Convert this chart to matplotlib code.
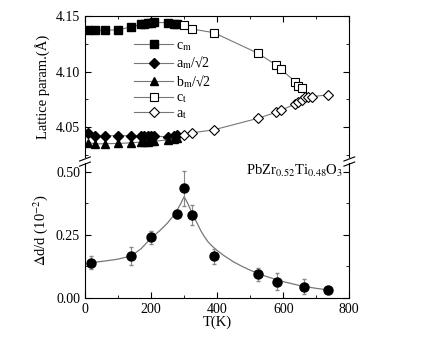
import numpy as np
import matplotlib
matplotlib.use("Agg")
import matplotlib.pyplot as plt
from matplotlib.ticker import MultipleLocator

plt.rcParams['font.family'] = ['Liberation Serif', 'DejaVu Serif']
plt.rcParams['mathtext.fontset'] = 'stix'
plt.rcParams['font.size'] = 10

# monoclinic phase
T_m = [10, 30, 60, 100, 140, 170, 180, 190, 200, 210, 250, 270, 280]
c_m = [4.1375, 4.1372, 4.1372, 4.1375, 4.1402, 4.1425, 4.1432, 4.1437, 4.1440, 4.1442, 4.1440, 4.1432, 4.1428]
a_m = [4.0445, 4.0420, 4.0422, 4.0422, 4.0422, 4.0422, 4.0422, 4.0422, 4.0422, 4.0420, 4.0410, 4.0418, 4.0428]
b_m = [4.0360, 4.0348, 4.0350, 4.0352, 4.0358, 4.0365, 4.0367, 4.0368, 4.0370, 4.0372, 4.0385, 4.0395, 4.0405]

# tetragonal phase
T_ct = [300, 325, 390, 523, 578, 593, 636, 646, 656]
c_t = [4.1420, 4.1382, 4.1350, 4.1165, 4.1060, 4.1020, 4.0910, 4.0870, 4.0855]
T_at = [300, 325, 390, 523, 578, 593, 636, 646, 656, 666, 676, 688, 736]
a_t = [4.0424, 4.0448, 4.0475, 4.0578, 4.0632, 4.0652, 4.0706, 4.0724, 4.0745, 4.0769, 4.0774, 4.0774, 4.0790]

# peak width
T_w = [19, 139, 200, 279, 300, 325, 390, 523, 580, 663, 736]
dd = [0.139, 0.166, 0.240, 0.334, 0.435, 0.330, 0.165, 0.093, 0.064, 0.043, 0.029]
dd_err = [0.025, 0.035, 0.025, 0.015, 0.07, 0.04, 0.03, 0.025, 0.035, 0.03, 0.008]

# fitted curve
T_fit = [17, 60, 98, 140, 170, 199, 225, 249, 265, 279, 290, 300, 310, 320, 330, 340, 350, 360, 372, 385, 398, 420, 449, 475, 499, 550, 600, 651, 701, 736]
dd_fit = [0.139, 0.146, 0.153, 0.166, 0.195, 0.236, 0.265, 0.296, 0.322, 0.349, 0.375, 0.402, 0.378, 0.349, 0.320, 0.295, 0.268, 0.246, 0.223, 0.205, 0.190, 0.168, 0.143, 0.125, 0.110, 0.084, 0.064, 0.048, 0.037, 0.031]

fig = plt.figure(figsize=(4.48, 3.42), dpi=100)
ax1 = fig.add_axes([0.1897, 0.5409, 0.59, 0.4123])
ax2 = fig.add_axes([0.1897, 0.1295, 0.59, 0.3939])

lc = '#777777'
ax1.plot(T_m, c_m, '-s', color=lc, lw=0.8, mfc='k', mec='k', ms=5.5, label=r'c$_\mathrm{m}$')
ax1.plot(T_m, a_m, '-D', color=lc, lw=0.8, mfc='k', mec='k', ms=5, label=r'a$_\mathrm{m}$/√2')
ax1.plot(T_m, b_m, '-^', color=lc, lw=0.8, mfc='k', mec='k', ms=5.5, label=r'b$_\mathrm{m}$/√2')
ax1.plot(T_ct, c_t, '-s', color=lc, lw=0.8, mfc='white', mec='k', mew=0.8, ms=5.5, label=r'c$_\mathrm{t}$')
ax1.plot(T_at, a_t, '-D', color=lc, lw=0.8, mfc='white', mec='k', mew=0.8, ms=5, label=r'a$_\mathrm{t}$')

ax1.set_xlim(0, 800)
ax1.set_ylim(4.023, 4.15)
ax1.set_yticks([4.05, 4.10, 4.15])
ax1.set_yticklabels(['4.05', '4.10', '4.15'])
ax1.yaxis.set_minor_locator(MultipleLocator(0.025))
ax1.xaxis.set_major_locator(MultipleLocator(200))
ax1.xaxis.set_minor_locator(MultipleLocator(100))
ax1.tick_params(axis='x', which='both', bottom=False, top=True, labelbottom=False, direction='in')
ax1.tick_params(axis='y', which='both', right=True, direction='in')
ax1.tick_params(which='major', length=4)
ax1.tick_params(which='minor', length=2.5)
ax1.spines['bottom'].set_visible(False)
ax1.set_ylabel('Lattice param.(Å)', fontsize=10.5)
ax1.legend(loc='upper left', bbox_to_anchor=(0.16, 0.885), frameon=False, handlelength=2.8,
           labelspacing=0.12, handletextpad=0.2, fontsize=10, borderpad=0)

ax2.plot(T_fit, dd_fit, '-', color=lc, lw=0.9)
ax2.errorbar(T_w, dd, yerr=dd_err, fmt='o', color='k', ms=6.5, ecolor='#888888', elinewidth=0.8, capsize=1.5)
ax2.set_xlim(0, 800)
ax2.set_ylim(0, 0.536)
ax2.set_yticks([0, 0.25, 0.5])
ax2.set_yticklabels(['0.00', '0.25', '0.50'])
ax2.yaxis.set_minor_locator(MultipleLocator(0.125))
ax2.xaxis.set_major_locator(MultipleLocator(200))
ax2.xaxis.set_minor_locator(MultipleLocator(100))
ax2.tick_params(axis='x', which='both', top=False, direction='in')
ax2.tick_params(axis='y', which='both', right=True, direction='in')
ax2.tick_params(which='major', length=4)
ax2.tick_params(which='minor', length=2.5)
ax2.spines['top'].set_visible(False)
ax2.set_xlabel('T(K)', fontsize=10.5, labelpad=0)
ax2.set_ylabel(r'$\Delta$d/d (10$^{-2}$)', fontsize=10.5)
ax2.text(0.61, 0.915, r'PbZr$_{0.52}$Ti$_{0.48}$O$_3$', transform=ax2.transAxes, fontsize=10.5)

# break marks on both sides
for x in (0, 1):
    for y in (-0.012, 0.003):
        fig.lines.append(plt.Line2D([0.1897 + x * 0.59 - 0.012, 0.1897 + x * 0.59 + 0.012],
                                    [0.5322 + y - 0.006, 0.5322 + y + 0.006],
                                    transform=fig.transFigure, color='k', lw=0.8))

fig.savefig('out.png', dpi=100)
